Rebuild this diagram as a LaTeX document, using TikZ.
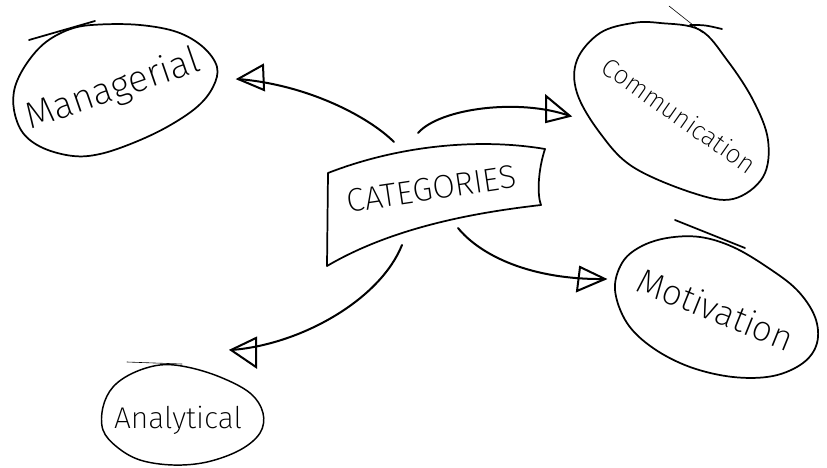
\documentclass[tikz,border=0pt]{standalone}
\usepackage{fontspec}
\setmainfont{Fira Sans ExtraLight}
\begin{document}
\begin{tikzpicture}[x=0.75pt,y=-0.75pt,
  outline/.style={line width=1.3pt, line join=round, line cap=round},
  hair/.style={line width=0.45pt, line cap=round},
  conn/.style={line width=1.5pt, line cap=round},
  tri/.style={line width=1.5pt, line join=miter, line cap=round},
  txt/.style={inner sep=0pt, anchor=base}]
\useasboundingbox (0,0) rectangle (827,467);

% ---------- Managerial ----------
\draw[outline] plot[smooth cycle, tension=0.6] coordinates {
  (72,28.5) (100,24.5) (140,25) (177,32) (203,47) (217,67) (213,87) (197,107)
  (167,127) (133,143) (100,154) (73,156) (43,148) (23,133) (14,110) (15,87)
  (27,63) (46,42)};
\draw[outline] (29,40) -- (95,21);
\node[txt, rotate=19, font=\fontsize{28}{30}\selectfont] (mgr) at (116,100) {Managerial};

% ---------- Communication ----------
\draw[outline] plot[smooth cycle, tension=0.6] coordinates {
  (660,23) (700,30) (727,60) (753,100) (768,140) (763,177) (733,199)
  (693,193) (633,167) (600,133) (577,93) (577,60) (600,33) (633,23)};
\draw[outline] (690,25) .. controls (705,25) .. (722,29);
\draw[hair] (669,6) -- (703,33);
\node[txt, rotate=-35, font=\fontsize{19.5}{22}\selectfont] (com) at (674,123) {Communication};

% ---------- Motivation ----------
\draw[outline] plot[smooth cycle, tension=0.6] coordinates {
  (615,290) (622,263) (640,247) (667,238) (700,237) (733,247) (767,267)
  (797,290) (815,317) (817,343) (803,363) (773,376) (733,377) (690,367)
  (653,348) (627,323)};
\draw[outline] (675,220) -- (745,248);
\node[txt, rotate=-22, font=\fontsize{26.5}{28}\selectfont] (mot) at (711,321) {Motivation};

% ---------- Analytical ----------
\draw[line width=1.1pt, line cap=round] plot[smooth cycle, tension=0.6] coordinates {
  (103,407) (113,387) (133,373) (160,365) (187,367) (220,377) (250,393)
  (263,413) (260,433) (240,450) (207,462) (173,465) (140,460) (117,447)
  (103,430)};
\draw[hair] (127,362) -- (182,364);
\node[txt, font=\fontsize{22.5}{24}\selectfont] (ana) at (178,428) {Analytical};

% ---------- CATEGORIES banner ----------
\draw[outline] (328,173) .. controls (400,145) and (480,138) .. (545,149)
  .. controls (538,170) and (537,195) .. (541,205)
  .. controls (480,212) and (395,226) .. (327,266) -- cycle;
\node[txt, rotate=8.5, font=\fontsize{24.5}{26}\selectfont] (cat) at (433,200) {CATEGORIES};

% ---------- connectors ----------
\coordinate (s1) at (394,142); \coordinate (t1) at (238,79);
\coordinate (s2) at (418,133); \coordinate (t2) at (570,116);
\coordinate (s3) at (458,228); \coordinate (t3) at (605,279);
\coordinate (s4) at (402,245); \coordinate (t4) at (231,350);
\draw[conn] (s1) .. controls (370,118) and (310,85) .. (t1);
\draw[conn] (s2) .. controls (440,108) and (520,98) .. (t2);
\draw[conn] (s3) .. controls (480,255) and (530,280) .. (t3);
\draw[conn] (s4) .. controls (380,300) and (300,345) .. (t4);
% arrowheads (open triangles)
\draw[tri] (t1) -- (263,65) -- (264,90) -- cycle;
\draw[tri] (t2) -- (546,96) -- (546,122) -- cycle;
\draw[tri] (t3) -- (580,267) -- (577,291) -- cycle;
\draw[tri] (t4) -- (256,338) -- (256,367) -- cycle;
\end{tikzpicture}
\end{document}
